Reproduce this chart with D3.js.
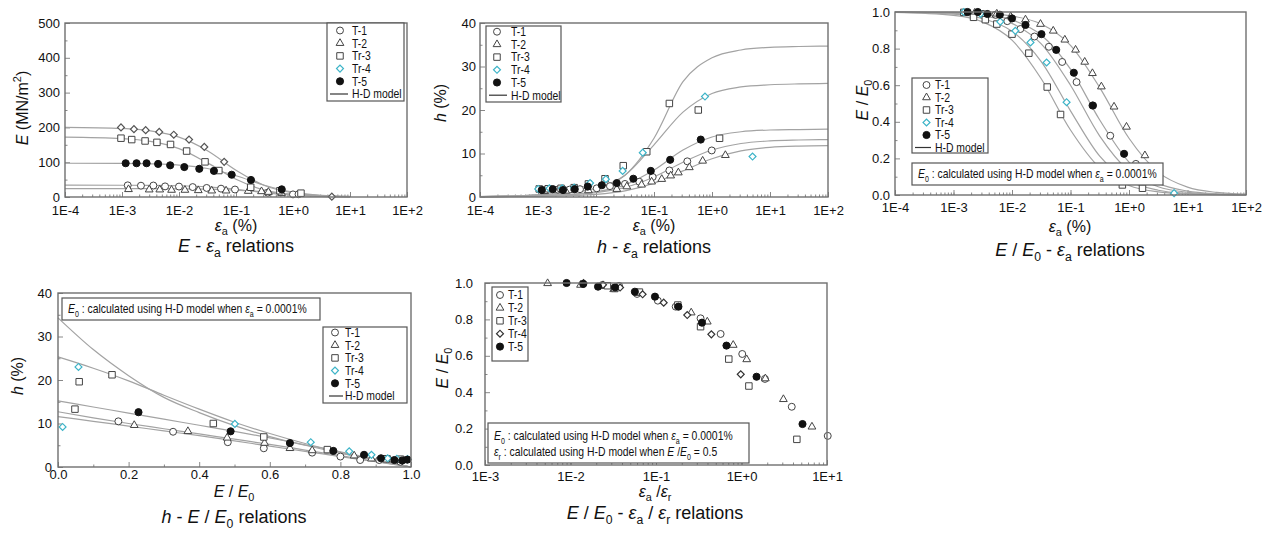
<!DOCTYPE html>
<html>
<head>
<meta charset="utf-8">
<script src="https://cdn.jsdelivr.net/npm/d3@7"></script>
<style>
  body { margin: 0; background: #fff; }
  svg { display: block; }
</style>
</head>
<body>
<svg id="chart" width="1268" height="533"></svg>
<script>
// ---- data ----
var series = ['T-1', 'T-2', 'Tr-3', 'Tr-4', 'T-5'];

var strainTicks = [1e-4, 1e-3, 1e-2, 1e-1, 1, 10, 100];
var strainLabels = ['1E-4', '1E-3', '1E-2', '1E-1', '1E+0', '1E+1', '1E+2'];
var normTicks = [1e-3, 1e-2, 1e-1, 1, 10];
var normLabels = ['1E-3', '1E-2', '1E-1', '1E+0', '1E+1'];
var eTicks = [0, 100, 200, 300, 400, 500];
var eMinor = [50, 150, 250, 350, 450];
var hTicks = [0, 10, 20, 30, 40];
var hMinor = [5, 15, 25, 35];
var ratioTicks = [0, 0.2, 0.4, 0.6, 0.8, 1.0];
var ratioLabels = ['0.0', '0.2', '0.4', '0.6', '0.8', '1.0'];
var ratioMinor = [0.1, 0.3, 0.5, 0.7, 0.9];

// strains (%) where the H-D model curves were read
var fitStrain = [1e-4, 1e-3, 0.00316, 0.01, 0.0316, 0.1, 0.316, 1, 3.16, 10, 31.6, 100];
// E/E0 values where the h - E/E0 curves were read
var fitRatio = [0, 0.1, 0.2, 0.3, 0.4, 0.5, 0.6, 0.7, 0.8, 0.9, 1.0];

// E (MN/m2) - strain
var eT1 = [[0.00126, 33.5], [0.00215, 32.5], [0.00355, 33], [0.0057, 30.5], [0.01, 30], [0.0174, 28.5], [0.0306, 26], [0.0546, 24], [0.096, 21.5], [0.36, 12.5], [1.0, 7.5], [1.25, 8]];
var eT2 = [[0.0013, 22], [0.003, 21], [0.0046, 21], [0.0074, 20], [0.0127, 20], [0.0218, 19], [0.0375, 18], [0.067, 18], [0.164, 17], [0.28, 16], [0.37, 14], [0.63, 11]];
var eTr3 = [[0.00096, 169], [0.00148, 165], [0.00254, 161], [0.0041, 157], [0.0071, 151], [0.0136, 132], [0.0286, 101], [0.05, 76], [0.181, 28], [0.59, 18], [1.38, 11]];
var eTr4 = [[0.00096, 200], [0.00162, 195], [0.0026, 192], [0.0045, 187], [0.0081, 179], [0.015, 165], [0.0278, 144], [0.062, 101], [4.8, 1]];
var eT5 = [[0.00116, 97], [0.0018, 97], [0.0027, 97], [0.0043, 95], [0.007, 91], [0.0124, 86], [0.0227, 81], [0.041, 75], [0.084, 64], [0.183, 49], [0.634, 22]];
var eFitT1 = [34, 33.8, 33.4, 32.3, 29.2, 22.3, 12.8, 5.4, 1.9, 0.6];
var eFitT2 = [24, 24, 23.9, 23.5, 22.6, 20, 14.7, 8, 3.3, 1.1];
var eFitTr3 = [172, 168, 160, 139, 98, 51, 20, 6.9, 2.3, 0.7];
var eFitTr4 = [200, 197, 190, 172, 133, 77, 33, 11.7, 3.9, 1.2];
var eFitT5 = [97, 96.4, 95.2, 91.6, 81.8, 61.1, 33.9, 14.1, 5, 1.6];

// h (%) - strain
var hT1 = [[0.0013, 1.6], [0.0022, 1.7], [0.0035, 1.7], [0.0053, 1.8], [0.0103, 2.0], [0.0174, 2.5], [0.0316, 3.0], [0.0558, 3.5], [0.095, 4.6], [0.184, 6.1], [0.375, 8.2], [0.99, 10.7]];
var hT2 = [[0.0013, 1.3], [0.003, 1.4], [0.0074, 1.5], [0.0228, 1.8], [0.034, 2.4], [0.061, 2.8], [0.091, 3.5], [0.136, 4.1], [0.194, 4.9], [0.263, 5.6], [0.407, 6.8], [0.69, 8.3], [1.7, 9.6]];
var hTr3 = [[0.00105, 1.85], [0.0015, 1.9], [0.0025, 2.0], [0.0042, 2.15], [0.0074, 3.0], [0.0143, 4.2], [0.0295, 7.2], [0.075, 10.4], [0.184, 21.5], [0.58, 20], [1.35, 13.5]];
var hTr4 = [[0.00101, 1.85], [0.00157, 2.0], [0.0026, 2.0], [0.0042, 2.15], [0.0079, 3.2], [0.0148, 4.1], [0.0288, 6.0], [0.064, 10.2], [0.757, 23.1], [5, 9.3]];
var hT5 = [[0.00116, 1.6], [0.0018, 1.8], [0.0027, 1.6], [0.0043, 1.8], [0.0072, 2.4], [0.0126, 2.7], [0.0228, 3.2], [0.044, 4.2], [0.088, 6.0], [0.19, 8.55], [0.64, 13.2]];
var hFitT1 = [0.05, 0.25, 0.5, 1.0, 2.2, 4.6, 8.0, 10.8, 12.3, 12.9, 13.1, 13.2];
var hFitT2 = [0.03, 0.15, 0.3, 0.6, 1.4, 3.2, 6.0, 8.8, 10.6, 11.4, 11.7, 11.8];
var hFitTr3 = [0.1, 0.5, 1.0, 2.0, 5.0, 13.5, 26.5, 32, 33.8, 34.4, 34.6, 34.7];
var hFitTr4 = [0.1, 0.5, 1.0, 2.0, 5.0, 12.0, 19.5, 23.8, 25.3, 25.8, 26.0, 26.1];
var hFitT5 = [0.05, 0.3, 0.6, 1.2, 2.8, 6.2, 10.8, 13.8, 15.0, 15.4, 15.5, 15.6];

// E/E0 - strain
var rT1 = [[0.0032, 0.99], [0.0052, 0.985], [0.0083, 0.95], [0.0139, 0.907], [0.0242, 0.866], [0.0427, 0.81], [0.072, 0.727], [0.127, 0.617], [0.237, 0.489], [0.478, 0.324], [1.31, 0.17]];
var rT2 = [[0.0023, 0.995], [0.0055, 0.99], [0.0095, 0.975], [0.017, 0.958], [0.0307, 0.934], [0.0507, 0.897], [0.08, 0.848], [0.122, 0.793], [0.175, 0.727], [0.237, 0.665], [0.337, 0.592], [0.555, 0.482], [0.906, 0.372], [1.87, 0.216]];
var rTr3 = [[0.0015, 0.998], [0.0022, 0.971], [0.0035, 0.958], [0.0055, 0.934], [0.01, 0.879], [0.0194, 0.775], [0.04, 0.59], [0.0676, 0.44], [0.77, 0.055], [1.7, 0.037]];
var rTr4 = [[0.0015, 1.0], [0.0029, 0.99], [0.0063, 0.947], [0.0114, 0.897], [0.0207, 0.834], [0.039, 0.724], [0.0857, 0.507], [5.9, 0.01]];
var rT5 = [[0.00174, 1.0], [0.0026, 1.0], [0.0038, 0.989], [0.0062, 0.985], [0.01, 0.965], [0.017, 0.929], [0.0319, 0.879], [0.057, 0.793], [0.114, 0.668], [0.242, 0.489], [0.824, 0.225]];
var rFitT1 = [0.999, 0.993, 0.979, 0.938, 0.826, 0.6, 0.322, 0.13, 0.045, 0.015, 0.005, 0.0015];
var rFitT2 = [1.0, 0.998, 0.993, 0.978, 0.934, 0.818, 0.587, 0.31, 0.125, 0.043, 0.014, 0.0045];
var rFitTr3 = [0.998, 0.982, 0.946, 0.846, 0.635, 0.355, 0.148, 0.052, 0.017, 0.0055, 0.0017, 0.0005];
var rFitTr4 = [0.999, 0.988, 0.964, 0.895, 0.729, 0.46, 0.212, 0.078, 0.026, 0.0084, 0.0027, 0.0009];
var rFitT5 = [1.0, 0.995, 0.986, 0.957, 0.874, 0.688, 0.41, 0.18, 0.065, 0.0215, 0.0069, 0.0022];

// h (%) - E/E0
var hrT1 = [[0.171, 10.5], [0.326, 8.1], [0.481, 5.7], [0.583, 4.3], [0.72, 3.3], [0.8, 2.4], [0.856, 1.6], [0.91, 1.6], [0.97, 1.2]];
var hrT2 = [[0.216, 9.6], [0.368, 8.2], [0.479, 6.7], [0.585, 5.5], [0.657, 4.3], [0.72, 3.8], [0.839, 2.6], [0.888, 1.9], [0.94, 1.7], [0.98, 1.5]];
var hrTr3 = [[0.048, 13.3], [0.06, 19.6], [0.153, 21.2], [0.44, 10.0], [0.583, 6.9], [0.763, 4.0], [0.93, 1.9], [0.97, 1.8]];
var hrTr4 = [[0.013, 9.2], [0.058, 23.0], [0.501, 9.9], [0.716, 5.7], [0.825, 3.6], [0.888, 2.8], [0.934, 2.0], [0.96, 1.9], [0.99, 1.8]];
var hrT5 = [[0.228, 12.6], [0.489, 8.2], [0.657, 5.5], [0.78, 3.7], [0.867, 2.8], [0.915, 2.0], [0.953, 1.6], [0.975, 1.5], [0.99, 1.7]];
var hrFitT1 = [12.7, 11.3, 10, 8.8, 7.6, 6.4, 5.2, 3.9, 2.6, 1.3, 0];
var hrFitT2 = [11.6, 10.5, 9.4, 8.3, 7.2, 6.0, 4.8, 3.6, 2.4, 1.2, 0];
var hrFitTr3 = [34.3, 27, 21, 16, 12.5, 9.5, 7, 5, 3.2, 1.6, 0];
var hrFitTr4 = [25.3, 22.7, 19.8, 16.5, 13.3, 10.3, 7.7, 5.4, 3.4, 1.6, 0];
var hrFitT5 = [15.2, 13.8, 12.4, 11, 9.6, 8.2, 6.7, 5.1, 3.5, 1.8, 0];

// E/E0 - strain / reference strain
var nT1 = [[0.0236, 0.989], [0.037, 0.984], [0.06, 0.94], [0.105, 0.903], [0.17, 0.87], [0.332, 0.806], [0.57, 0.72], [1.02, 0.61], [1.88, 0.473], [3.87, 0.32], [10.2, 0.16]];
var nT2 = [[0.0054, 0.998], [0.0131, 0.989], [0.032, 0.965], [0.06, 0.945], [0.258, 0.837], [0.398, 0.787], [0.8, 0.659], [1.15, 0.58], [1.9, 0.475], [3.09, 0.361], [6.67, 0.21]];
var nTr3 = [[0.027, 0.985], [0.033, 0.97], [0.064, 0.95], [0.18, 0.879], [0.332, 0.76], [0.71, 0.582], [1.22, 0.434], [4.44, 0.141]];
var nTr4 = [[0.0142, 1.0], [0.024, 0.99], [0.038, 0.975], [0.0697, 0.938], [0.123, 0.892], [0.232, 0.824], [0.444, 0.718], [0.98, 0.498]];
var nT5 = [[0.009, 1.0], [0.0141, 0.995], [0.021, 0.98], [0.0332, 0.976], [0.0566, 0.952], [0.0973, 0.925], [0.183, 0.87], [0.345, 0.782], [0.667, 0.656], [1.5, 0.485], [5.17, 0.225]];

// ---- drawing ----
var svg = d3.select('#chart');
var FONT = '"Liberation Sans", Arial, sans-serif';
var CYAN = '#3db4c8';
var CURVE = '#a3a3a3';
var SQUEEZE = 0.8;   // the figure uses a condensed face for legends and notes

var shapes = [d3.symbolCircle, d3.symbolTriangle, d3.symbolSquare, d3.symbolSquare, d3.symbolCircle];
var sizes = [38, 26, 42, 24, 40];

// text with italic / sub / sup pieces
function rich(sel, parts, size) {
  var shift = 0;
  parts.forEach(function(p) {
    var t = sel.append('tspan').text(p[0]);
    var target = 0;
    if (p[1] === 'i') t.attr('font-style', 'italic');
    if (p[1] === 'sub') { t.attr('font-size', size * 0.68); target = size * 0.28; }
    if (p[1] === 'sup') { t.attr('font-size', size * 0.68); target = -size * 0.42; }
    if (target !== shift) { t.attr('dy', target - shift); shift = target; }
  });
  return sel;
}

function label(g, x, y, parts, size, rotate, anchor, sx) {
  var t = g.append('text')
    .attr('font-family', FONT)
    .attr('font-size', size)
    .attr('fill', '#111')
    .attr('text-anchor', anchor || 'middle')
    .attr('transform', 'translate(' + x + ',' + y + ')' + (rotate ? ' rotate(-90)' : '') +
      (sx ? ' scale(' + sx + ',1)' : ''));
  return rich(t, parts, size);
}

function marker(g, k, cx, cy, tr4Color) {
  var m = g.append('path')
    .attr('d', d3.symbol(shapes[k], sizes[k])())
    .attr('transform', 'translate(' + cx + ',' + cy + ')' + (k === 3 ? ' rotate(45)' : ''))
    .attr('stroke-width', 1);
  if (k === 4) m.attr('fill', '#111').attr('stroke', '#111');
  else if (k === 3) m.attr('fill', 'white').attr('stroke', tr4Color).attr('stroke-width', 1.2);
  else m.attr('fill', 'white').attr('stroke', '#444');
  return m;
}

function legend(g, b, tr4Color, withModel) {
  g.append('rect').attr('x', b.x).attr('y', b.y).attr('width', b.w).attr('height', b.h)
    .attr('fill', 'white').attr('stroke', '#555').attr('stroke-width', 1.2);
  series.forEach(function(s, i) {
    var cy = b.row0 + i * b.step;
    marker(g, i, b.x + b.mx, cy, tr4Color);
    label(g, b.x + b.tx, cy + 4.3, [[s]], 13, false, 'start', SQUEEZE);
  });
  if (withModel) {
    var cy = b.row0 + 5 * b.step;
    g.append('line').attr('x1', b.x + b.l0).attr('x2', b.x + b.l1).attr('y1', cy).attr('y2', cy)
      .attr('stroke', '#333').attr('stroke-width', 1.2);
    label(g, b.x + b.tx, cy + 4.3, [['H-D model']], 13, false, 'start', SQUEEZE);
  }
}

function note(g, b, lines) {
  g.append('rect').attr('x', b.x).attr('y', b.y).attr('width', b.w).attr('height', b.h)
    .attr('fill', 'white').attr('stroke', '#555').attr('stroke-width', 1.2);
  lines.forEach(function(parts, i) {
    label(g, b.x + 6, b.base0 + i * 16, parts, 13, false, 'start', SQUEEZE);
  });
}

function drawPanel(p) {
  var g = svg.append('g');
  var x = (p.log ? d3.scaleLog() : d3.scaleLinear()).domain(p.xDomain).range([p.left, p.right]);
  var y = d3.scaleLinear().domain(p.yDomain).range([p.bottom, p.top]);

  var xMinor = p.log ? x.ticks() : p.xMinor;
  var axes = g.append('g');
  axes.append('g').attr('transform', 'translate(0,' + p.bottom + ')')
    .call(d3.axisBottom(x).tickValues(xMinor).tickSize(-2.5).tickFormat(''));
  axes.append('g').attr('transform', 'translate(0,' + p.bottom + ')')
    .call(d3.axisBottom(x).tickValues(p.xTicks).tickSize(-5).tickPadding(p.xPad)
      .tickFormat(function(d, i) { return p.xLabels[i]; }));
  axes.append('g').attr('transform', 'translate(' + p.left + ',0)')
    .call(d3.axisLeft(y).tickValues(p.yMinor).tickSize(-2.5).tickFormat(''));
  axes.append('g').attr('transform', 'translate(' + p.left + ',0)')
    .call(d3.axisLeft(y).tickValues(p.yTicks).tickSize(-5).tickPadding(p.yPad)
      .tickFormat(function(d, i) { return p.yLabels[i]; }));
  axes.selectAll('.domain').remove();
  axes.selectAll('.tick line').attr('stroke', '#888');
  axes.selectAll('g').attr('font-size', 13).attr('font-family', FONT);
  axes.selectAll('.tick text').attr('fill', '#111');

  // model curves
  var line = d3.line().x(function(d) { return x(d[0]); }).y(function(d) { return y(d[1]); })
    .curve(d3.curveMonotoneX);
  (p.fits || []).forEach(function(f) {
    var pts = f.map(function(v, i) { return [p.fitX[i], v]; });
    g.append('path').attr('d', line(pts)).attr('fill', 'none')
      .attr('stroke', CURVE).attr('stroke-width', 1.2);
  });

  // measured points
  p.points.forEach(function(pts, k) {
    pts.forEach(function(d) { marker(g, k, x(d[0]), y(d[1]), p.tr4Plot); });
  });

  g.append('rect').attr('x', p.left).attr('y', p.top)
    .attr('width', p.right - p.left).attr('height', p.bottom - p.top)
    .attr('fill', 'none').attr('stroke', '#6f6f6f').attr('stroke-width', 1.4);

  if (p.note) note(g, p.note, p.noteLines);
  legend(g, p.legend, p.tr4Legend, p.fits !== undefined);

  label(g, p.yLab[0], p.yLab[1], p.yTitle, 16, true);
  label(g, p.xLab[0], p.xLab[1], p.xTitle, 16, false);
  label(g, p.title[0], p.title[1], p.caption, 18, false);
}

var epsA = [['ε', 'i'], ['a', 'sub'], [' (%)']];
var e0Note = [['E', 'i'], ['0', 'sub'], [' : calculated using H-D model when '], ['ε', 'i'], ['a', 'sub'], [' = 0.0001%']];
var erNote = [['ε', 'i'], ['r', 'sub'], [' : calculated using H-D model when '], ['E', 'i'], [' /'], ['E', 'i'], ['0', 'sub'], [' = 0.5']];

// E - strain
drawPanel({
  log: true, xDomain: [1e-4, 100], yDomain: [0, 500],
  left: 65, right: 407, top: 23, bottom: 197,
  xTicks: strainTicks, xLabels: strainLabels, xPad: 9,
  yTicks: eTicks, yLabels: eTicks.map(String), yMinor: eMinor, yPad: 5,
  fitX: fitStrain, fits: [eFitT1, eFitT2, eFitTr3, eFitTr4, eFitT5],
  points: [eT1, eT2, eTr3, eTr4, eT5], tr4Plot: '#555', tr4Legend: CYAN,
  legend: {x: 327, y: 23, w: 77, h: 78, row0: 30.5, step: 12.7, mx: 13, tx: 25, l0: 3, l1: 21},
  yLab: [28, 108], yTitle: [['E', 'i'], [' (MN/m'], ['2', 'sup'], [')']],
  xLab: [236, 231], xTitle: epsA,
  title: [236, 252], caption: [['E', 'i'], [' - '], ['ε', 'i'], ['a', 'sub'], [' relations']]
});

// h - strain
drawPanel({
  log: true, xDomain: [1e-4, 100], yDomain: [0, 40],
  left: 480, right: 828, top: 23, bottom: 197,
  xTicks: strainTicks, xLabels: strainLabels, xPad: 8.5,
  yTicks: hTicks, yLabels: hTicks.map(String), yMinor: hMinor, yPad: 4,
  fitX: fitStrain, fits: [hFitT1, hFitT2, hFitTr3, hFitTr4, hFitT5],
  points: [hT1, hT2, hTr3, hTr4, hT5], tr4Plot: CYAN, tr4Legend: CYAN,
  legend: {x: 486, y: 26, w: 75, h: 76, row0: 31.7, step: 12.7, mx: 11, tx: 25, l0: 3, l1: 21},
  yLab: [446, 103], yTitle: [['h', 'i'], [' (%)']],
  xLab: [654, 231], xTitle: epsA,
  title: [654, 253], caption: [['h', 'i'], [' - '], ['ε', 'i'], ['a', 'sub'], [' relations']]
});

// E/E0 - strain
drawPanel({
  log: true, xDomain: [1e-4, 100], yDomain: [0, 1],
  left: 895, right: 1246, top: 12, bottom: 195,
  xTicks: strainTicks, xLabels: strainLabels, xPad: 8,
  yTicks: ratioTicks, yLabels: ratioLabels, yMinor: ratioMinor, yPad: 5,
  fitX: fitStrain, fits: [rFitT1, rFitT2, rFitTr3, rFitTr4, rFitT5],
  points: [rT1, rT2, rTr3, rTr4, rT5], tr4Plot: CYAN, tr4Legend: CYAN,
  legend: {x: 912, y: 78, w: 76, h: 75, row0: 85, step: 12.5, mx: 14.5, tx: 23, l0: 3, l1: 19},
  note: {x: 912, y: 163, w: 251, h: 22, base0: 178}, noteLines: [e0Note],
  yLab: [868, 100], yTitle: [['E', 'i'], [' / '], ['E', 'i'], ['0', 'sub']],
  xLab: [1070, 232], xTitle: epsA,
  title: [1070, 256], caption: [['E', 'i'], [' / '], ['E', 'i'], ['0', 'sub'], [' - '], ['ε', 'i'], ['a', 'sub'], [' relations']]
});

// h - E/E0
drawPanel({
  log: false, xDomain: [0, 1], yDomain: [0, 40],
  left: 58, right: 411, top: 293, bottom: 467,
  xTicks: ratioTicks, xLabels: ratioLabels, xMinor: ratioMinor, xPad: 3,
  yTicks: hTicks, yLabels: hTicks.map(String), yMinor: hMinor, yPad: 6,
  fitX: fitRatio, fits: [hrFitT1, hrFitT2, hrFitTr3, hrFitTr4, hrFitT5],
  points: [hrT1, hrT2, hrTr3, hrTr4, hrT5], tr4Plot: CYAN, tr4Legend: CYAN,
  legend: {x: 323, y: 327, w: 84, h: 76, row0: 332.5, step: 12.7, mx: 12, tx: 22, l0: 6, l1: 20},
  note: {x: 62, y: 298, w: 258, h: 22, base0: 313}, noteLines: [e0Note],
  yLab: [23, 376], yTitle: [['h', 'i'], [' (%)']],
  xLab: [234, 497], xTitle: [['E', 'i'], [' / '], ['E', 'i'], ['0', 'sub']],
  title: [234, 523], caption: [['h', 'i'], [' - '], ['E', 'i'], [' / '], ['E', 'i'], ['0', 'sub'], [' relations']]
});

// E/E0 - normalised strain
drawPanel({
  log: true, xDomain: [1e-3, 10], yDomain: [0, 1],
  left: 485, right: 827, top: 283, bottom: 465,
  xTicks: normTicks, xLabels: normLabels, xPad: 7,
  yTicks: ratioTicks, yLabels: ratioLabels, yMinor: ratioMinor, yPad: 12,
  points: [nT1, nT2, nTr3, nTr4, nT5], tr4Plot: '#333', tr4Legend: '#333',
  legend: {x: 492, y: 287, w: 36, h: 74, row0: 295, step: 12.9, mx: 8, tx: 16},
  note: {x: 488, y: 423, w: 261, h: 40, base0: 440}, noteLines: [e0Note, erNote],
  yLab: [448, 368], yTitle: [['E', 'i'], [' / '], ['E', 'i'], ['0', 'sub']],
  xLab: [655, 497], xTitle: [['ε', 'i'], ['a', 'sub'], [' /'], ['ε', 'i'], ['r', 'sub']],
  title: [655, 519], caption: [['E', 'i'], [' / '], ['E', 'i'], ['0', 'sub'], [' - '], ['ε', 'i'], ['a', 'sub'], [' / '], ['ε', 'i'], ['r', 'sub'], [' relations']]
});
</script>
</body>
</html>
